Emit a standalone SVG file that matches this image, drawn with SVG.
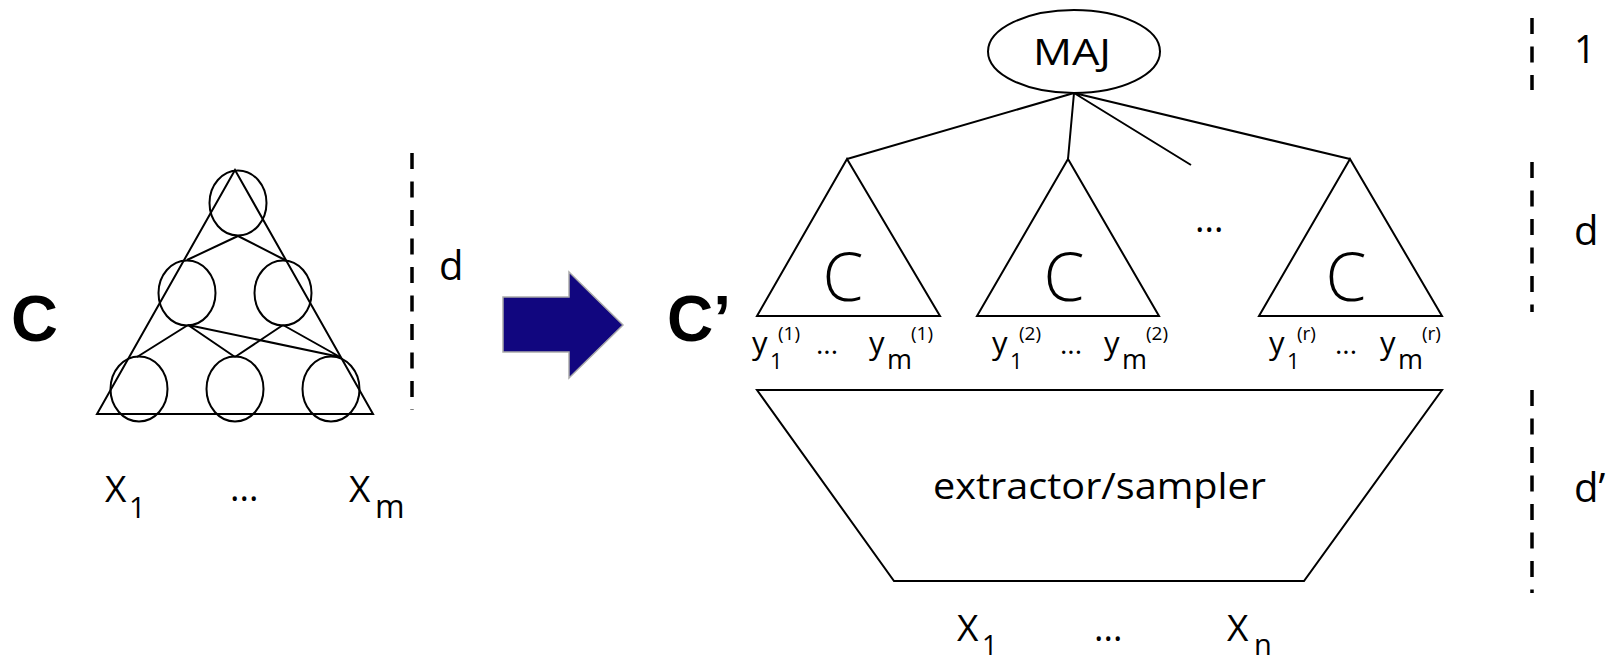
<svg xmlns="http://www.w3.org/2000/svg" width="1608" height="664" viewBox="0 0 1608 664">
<defs>
<style>
.s{fill:none;stroke:#000;stroke-width:2}
.dash{fill:none;stroke:#000;stroke-width:3.5;stroke-dasharray:16 12.5}
.t{font-family:"Open Sans","Liberation Sans",sans-serif;fill:#000}
.b{font-family:"Liberation Sans",Arial,sans-serif;font-weight:bold;fill:#000}
.lt{font-family:"Open Sans","Liberation Sans",sans-serif;font-weight:300;fill:#000}
</style>
</defs>
<rect width="1608" height="664" fill="#fff"/>

<g id="circuit-C">
<polygon class="s" points="235,170 97,414 373,414"/>
<ellipse class="s" cx="238" cy="203" rx="28.5" ry="32.5"/>
<ellipse class="s" cx="187" cy="293" rx="28.5" ry="32.5"/>
<ellipse class="s" cx="283" cy="293" rx="28.5" ry="32.5"/>
<ellipse class="s" cx="139" cy="389" rx="28.5" ry="32.5"/>
<ellipse class="s" cx="235" cy="389" rx="28.5" ry="32.5"/>
<ellipse class="s" cx="331" cy="389" rx="28.5" ry="32.5"/>
<path class="s" d="M238,236 L187,260 M238,236 L285,260 M188,325 L137,357 M188,325 L235,357 M188,325 L340,357 M283,325 L235,357 M283,325 L340,357"/>
<text class="b" x="11" y="341" font-size="65">C</text>
<text class="t" x="105" y="502" font-size="37">X<tspan x="129" y="518" font-size="29">1</tspan></text>
<text class="t" x="230" y="501" font-size="36">...</text>
<text class="t" x="349" y="502" font-size="37">X<tspan x="375" y="518" font-size="32">m</tspan></text>
</g>

<g id="depth-left">
<line class="dash" x1="412" y1="153" x2="412" y2="410"/>
<text class="t" x="439" y="280" font-size="40">d</text>
</g>

<g id="arrow">
<polygon points="503,297 569,297 569,272 623,325 569,378 569,352 503,352" fill="#11067f" stroke="#aaaaaa" stroke-width="1.5"/>
</g>

<g id="label-Cprime">
<text class="b" x="667" y="341" font-size="64">C’</text>
</g>

<g id="MAJ">
<ellipse class="s" cx="1074" cy="51.5" rx="86" ry="41.5"/>
<text class="t" x="1033" y="65" font-size="37" textLength="78" lengthAdjust="spacingAndGlyphs">MAJ</text>
</g>

<g id="connectors">
<path class="s" d="M1074,93 L847,159 M1074,93 L1068,159 M1074,93 L1191,165 M1074,93 L1350,159"/>
</g>

<g id="copy1">
<polygon class="s" points="847,159 757,316 940,316"/>
<text class="lt" x="843" y="301" font-size="66" text-anchor="middle">C</text>
<text class="t" y="354" font-size="31"><tspan x="752">y</tspan><tspan x="770" y="369" font-size="22">1</tspan><tspan x="778" y="340" font-size="19">(1)</tspan><tspan x="816" y="354" font-size="28">...</tspan><tspan x="869" y="354">y</tspan><tspan x="887" y="369" font-size="27">m</tspan><tspan x="911" y="340" font-size="19">(1)</tspan></text>
</g>

<g id="copy2">
<polygon class="s" points="1068,159 977,316 1159,316"/>
<text class="lt" x="1064" y="301" font-size="66" text-anchor="middle">C</text>
<text class="t" y="354" font-size="31"><tspan x="992">y</tspan><tspan x="1010" y="369" font-size="22">1</tspan><tspan x="1019" y="340" font-size="19">(2)</tspan><tspan x="1060" y="354" font-size="28">...</tspan><tspan x="1104" y="354">y</tspan><tspan x="1122" y="369" font-size="27">m</tspan><tspan x="1146" y="340" font-size="19">(2)</tspan></text>
</g>

<g id="dots-mid">
<text class="t" x="1195" y="232" font-size="36">...</text>
</g>

<g id="copyr">
<polygon class="s" points="1350,159 1259,316 1442,316"/>
<text class="lt" x="1346" y="301" font-size="66" text-anchor="middle">C</text>
<text class="t" y="354" font-size="31"><tspan x="1269">y</tspan><tspan x="1287" y="369" font-size="22">1</tspan><tspan x="1297" y="340" font-size="19">(r)</tspan><tspan x="1335" y="354" font-size="28">...</tspan><tspan x="1380" y="354">y</tspan><tspan x="1398" y="369" font-size="27">m</tspan><tspan x="1422" y="340" font-size="19">(r)</tspan></text>
</g>

<g id="extractor">
<polygon class="s" points="757,390 1442,390 1304,581 894,581"/>
<text class="t" x="933" y="499" font-size="37" textLength="333" lengthAdjust="spacingAndGlyphs">extractor/sampler</text>
</g>

<g id="inputs">
<text class="t" x="957" y="641" font-size="37">X<tspan x="982" y="655" font-size="27">1</tspan></text>
<text class="t" x="1094" y="641" font-size="36">...</text>
<text class="t" x="1227" y="641" font-size="37">X<tspan x="1254" y="655" font-size="29">n</tspan></text>
</g>

<g id="depth-right">
<line class="dash" x1="1532" y1="18" x2="1532" y2="90"/>
<line class="dash" x1="1532" y1="162" x2="1532" y2="312"/>
<line class="dash" x1="1532" y1="390" x2="1532" y2="593"/>
<text class="t" x="1574" y="63" font-size="38">1</text>
<text class="t" x="1574" y="245" font-size="40">d</text>
<text class="t" x="1574" y="502" font-size="40">d’</text>
</g>
</svg>
